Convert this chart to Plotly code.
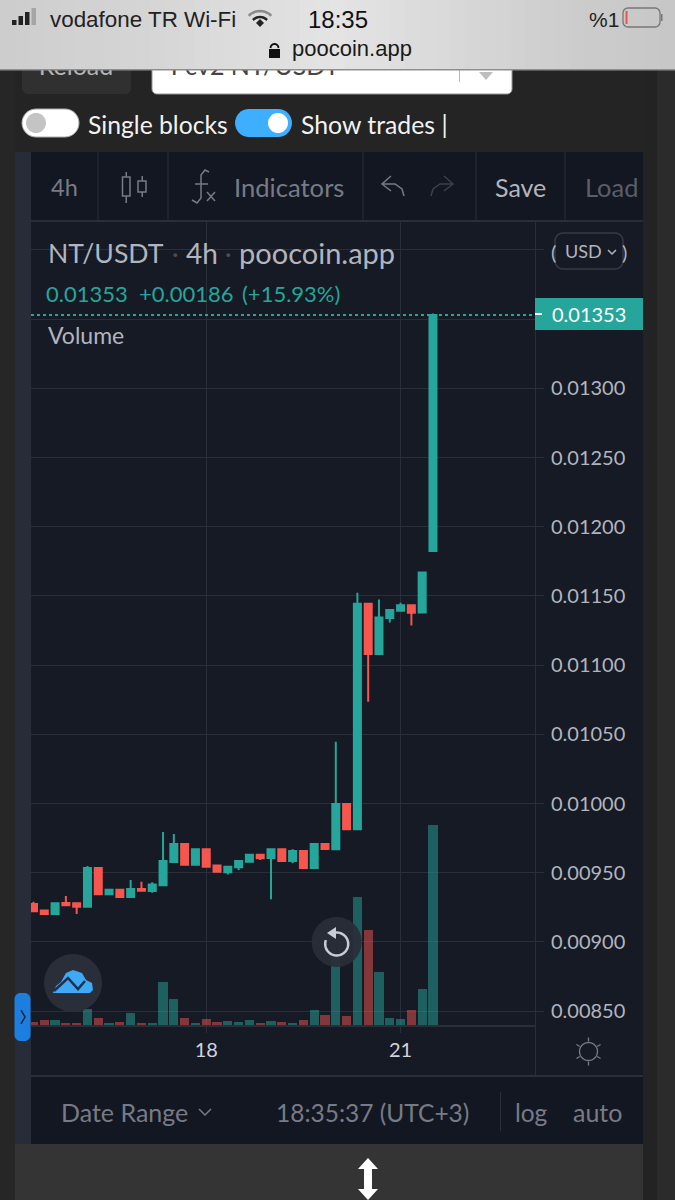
import math
import plotly.graph_objects as go

# candle positions, 4h bars; 18th and 21st fall on bars 16 and 34
bars = list(range(38))
tick_bars = [16, 34]
tick_days = ["18", "21"]

opens = [.009274, .009228, .009202, .009281, .009279, .009254, .009534, .009344, .009377, .009324,
         .009382, .009368, .009409, .009577, .009707, .009558, .009669, .009553, .009503, .009539,
         .00958, .00963, .009606, .009669, .009585, .009657, .009534, .009707, .009669, .009996,
         .009814, .011444, .01108, .01134, .011393, .011432, .011381, .011824]
highs = [.009291, .009228, .009279, .009332, .009285, .009548, .009534, .009377, .009377, .009447,
         .009435, .009431, .009794, .00978, .009707, .009676, .009669, .009553, .009543, .009585,
         .00963, .00963, .009669, .009669, .009669, .009657, .009707, .009707, .010447, .009996,
         .011523, .011444, .011475, .011398, .011451, .011432, .01167, .01354]
lows = [.009221, .009194, .009202, .009265, .009202, .009254, .009344, .009344, .009324, .009324,
        .00937, .009356, .009409, .009577, .009558, .009558, .009543, .009507, .009488, .00952,
        .00958, .009592, .009308, .009585, .009568, .009534, .009534, .009664, .009669, .009814,
        .009814, .010736, .01108, .011309, .011393, .011287, .011381, .011824]
closes = [.009221, .009202, .009279, .009265, .009254, .009534, .009344, .009377, .009324, .009382,
          .00937, .009416, .009585, .009707, .009558, .009669, .009543, .009507, .009543, .009585,
          .00963, .009604, .009669, .009585, .009657, .009534, .009707, .009671, .009996, .009814,
          .011444, .01108, .011345, .011398, .011432, .011379, .01167, .01353]
# volume has no scale on the chart, so relative units
volumes = [2.7, 5, 5, 1.7, 1.7, 16.3, 7.3, 1.7, 3, 12, 1.7, 2, 43, 25.7, 7.3, 1.7, 5.7, 3, 3.7, 2.7,
           4.7, 1.7, 3.7, 3, 1.7, 4.7, 14.5, 9.8, 68, 9.3, 127.7, 94.7, 53, 7, 6.3, 15.3, 36, 199.7]

price_ticks = [.0085, .009, .0095, .01, .0105, .011, .0115, .012, .0125, .013, .0135, .014]
price_labels = ["0.00850", "0.00900", "0.00950", "0.01000", "0.01050", "0.01100",
                "0.01150", "0.01200", "0.01250", "0.01300", "", ""]
last_price = 0.01353

GREEN = "#26a69a"
RED = "#f6564e"
PANEL = "#161a25"
LINE = "#2a2e39"
GREY = "#787b86"
LIGHT = "#b2b5be"
W, H = 675, 1200
FONT = "Lato"


def px(x):
    return x / W


def py(y):
    return 1 - y / H


shapes = []
notes = []


def rect(x0, y0, x1, y1, fill, layer="below"):
    shapes.append(dict(type="rect", xref="paper", yref="paper", x0=px(x0), x1=px(x1), y0=py(y0), y1=py(y1),
                       fillcolor=fill, line_width=0, layer=layer))


def poly(points, fill=None, stroke=None, width=2, close=True, layer="above"):
    d = "M" + " L".join(f"{px(x):.5f},{py(y):.5f}" for x, y in points)
    shapes.append(dict(type="path", xref="paper", yref="paper", path=d + (" Z" if close else ""),
                       fillcolor=fill or "rgba(0,0,0,0)", line=dict(color=stroke or "rgba(0,0,0,0)", width=width),
                       layer=layer))


def arc(cx, cy, r, a0=0, a1=360, n=48):
    return [(cx + r * math.cos(math.radians(a0 + (a1 - a0) * i / n)),
             cy + r * math.sin(math.radians(a0 + (a1 - a0) * i / n))) for i in range(n + 1)]


def pill(x0, y0, x1, y1, r, fill=None, stroke=None, width=1, layer="below"):
    pts = arc(x0 + r, y0 + r, r, 180, 270, 8) + arc(x1 - r, y0 + r, r, 270, 360, 8) + \
        arc(x1 - r, y1 - r, r, 0, 90, 8) + arc(x0 + r, y1 - r, r, 90, 180, 8)
    poly(pts, fill, stroke, width, layer=layer)


def label(x, y, text, size=20, color=LIGHT, anchor="left", family=FONT):
    notes.append(dict(xref="paper", yref="paper", x=px(x), y=py(y), text=text, showarrow=False,
                      xanchor=anchor, yanchor="middle", borderpad=0,
                      font=dict(family=family, size=size, color=color)))


# page behind the chart
rect(0, 0, 15, H, "#262626")
rect(643, 0, 657, H, "#232323")
rect(657, 0, W, H, "#2b2b2b")
rect(15, 0, 643, H, "#242424")
rect(15, 1144, 643, H, "#343434")

# buttons cut off by the browser bar, toggles
pill(22, 40, 131, 94, 6, "#303030")
pill(152, 40, 512, 94, 5, "#ffffff", "#999999", 1)
rect(459, 70, 460, 82, "#b8b8b8")
poly([(479, 72), (486, 80), (493, 72)], "#bdbdbd", layer="below")
pill(22, 109, 79, 137, 14, "#ffffff", "#aaaaaa", 1)
poly(arc(36, 123, 10), "#c4c4c4", layer="below")
pill(235, 109, 292, 137, 14, "#3eaeff")
poly(arc(278, 123, 10), "#ffffff", layer="below")

# chart panel
rect(15, 152, 31, 1144, "#272c38")
rect(31, 152, 643, 1144, PANEL)
rect(31, 152, 643, 221, "#131722")
rect(31, 220, 643, 222, LINE)
for x in [98, 168, 363, 476, 565]:
    rect(x - .5, 152, x + .5, 220, LINE)
rect(31, 1075, 643, 1077, LINE)
rect(31, 1077, 643, 1144, "#131722")
rect(500, 1092, 501, 1131, LINE)
rect(535, 1025, 536, 1076, LINE)

# last price marker
shapes.append(dict(type="line", xref="paper", yref="y", x0=px(31), x1=px(535), y0=last_price, y1=last_price,
                   line=dict(color=GREEN, width=2, dash="dot"), layer="above"))
rect(535, 298, 643, 330, GREEN, "above")
rect(535, 313, 542, 315, "#ffffff", "above")
label(551, 314, "0.01353", 20, "#ffffff")

# usd button over the hidden 0.01400 label
pill(555, 233, 623, 269, 8, PANEL, "#363a45", 1.5, "above")
label(550, 252, "(", 20, LIGHT)
label(621, 252, ")", 20, LIGHT)
label(564, 251, "USD", 18, LIGHT)
poly([(608, 250), (612, 254), (616, 250)], stroke=LIGHT, width=1.5, close=False)

# toolbar icons
rect(125.5, 172, 127, 177, GREY, "above")
rect(125.5, 196, 127, 203, GREY, "above")
poly([(122.5, 177), (130, 177), (130, 196), (122.5, 196)], stroke=GREY, width=1.5)
rect(141.5, 176, 143, 181, GREY, "above")
rect(141.5, 192, 143, 197, GREY, "above")
poly([(138, 181), (146, 181), (146, 192), (138, 192)], stroke=GREY, width=1.5)
poly([(209, 172), (205, 170), (201, 175), (201, 198), (197, 203), (192, 200)], stroke=GREY, width=1.5, close=False)
poly([(195, 184), (208, 184)], stroke=GREY, width=1.5, close=False)
poly([(207, 192), (215, 201)], stroke=GREY, width=1.5, close=False)
poly([(215, 192), (207, 201)], stroke=GREY, width=1.5, close=False)
poly([(391, 176), (382, 184), (391, 191)], stroke=GREY, width=1.5, close=False)
poly([(382, 184), (395, 184), (402, 189), (404, 196)], stroke=GREY, width=1.5, close=False)
poly([(444, 176), (453, 184), (444, 191)], stroke="#3d404a", width=1.5, close=False)
poly([(453, 184), (440, 184), (433, 189), (431, 196)], stroke="#3d404a", width=1.5, close=False)

# left tab
pill(14.5, 993, 30.5, 1041, 6, "#1c7fe0", layer="above")
poly([(21, 1010), (25, 1017), (21, 1024)], stroke="#12233f", width=1.5, close=False)

# logo badge
poly(arc(73, 983, 29), "#2a2e39")
poly([(53, 993), (56, 986), (61, 982), (66, 973), (73, 970), (82, 973), (86, 980), (92, 983), (93, 990),
      (90, 993)], "#3eaaf7")
poly([(54, 991), (68, 978), (78, 989), (85, 981)], stroke="#22304a", width=2.5, close=False)

# reset button
poly(arc(336.7, 942, 25), "rgba(42,46,57,0.93)")
poly(arc(336.7, 944, 11.5, -100, 200), stroke="#c9ccd4", width=2.5, close=False)
poly([(327, 933), (336, 927), (336, 939)], "#c9ccd4")

# gear at the axis corner
poly(arc(588.5, 1051.5, 9), stroke=GREY, width=1.3)
for a in range(0, 360, 60):
    poly([(588.5 + 10 * math.cos(math.radians(a + 30)), 1051.5 + 10 * math.sin(math.radians(a + 30))),
          (588.5 + 14 * math.cos(math.radians(a + 30)), 1051.5 + 14 * math.sin(math.radians(a + 30)))],
         stroke=GREY, width=1.3, close=False)

# resize arrow
poly([(368, 1158), (378, 1169), (372, 1169), (372, 1189), (378, 1189), (368, 1200), (358, 1189), (364, 1189),
      (364, 1169), (358, 1169)], "#ffffff")

# browser bar, strips so it lightens towards the middle
stops = [(0, 205), (150, 214), (330, 228), (470, 214), (560, 205), (675, 198)]
for x in range(0, W, 15):
    for (a, va), (b, vb) in zip(stops, stops[1:]):
        if a <= x < b:
            v = round(va + (vb - va) * (x - a) / (b - a))
            rect(x, 0, x + 16, 70, f"rgb({v},{v},{v})", "above")
rect(0, 69, W, 70.5, "#8f8f8f", "above")
for i, h in enumerate([5, 9, 13, 17]):
    rect(12 + i * 6.5, 25 - h, 16.5 + i * 6.5, 25, "#222222" if i < 3 else "#a5a5a5", "above")
for r, w in [(16, 2.5), (10, 2.5)]:
    poly(arc(260, 27, r, 225, 315, 10), stroke="#222222" if r == 10 else "#8a8a8a", width=w, close=False)
poly([(256, 23), (260, 19), (264, 23), (260, 27)], "#222222")
pill(623, 8, 660, 27, 5, None, "#777777", 1.3, "above")
rect(625.5, 11, 627.5, 24, "#f0524a", "above")
rect(661, 14, 662.5, 21, "#777777", "above")
rect(269, 49, 280, 58, "#111111", "above")
poly(arc(274.5, 48, 4, 180, 360, 10), stroke="#111111", width=1.8, close=False)

label(49, 19, "vodafone TR Wi-Fi", 22.4, "#222222", family="Liberation Sans")
label(307, 19, "18:35", 24, "#111111", family="Liberation Sans")
label(588, 19, "%1", 21, "#222222", family="Liberation Sans")
label(291, 49, "poocoin.app", 22, "#1a1a1a", family="Liberation Sans")

label(87, 125, "Single blocks", 24.7, "#f2f2f2")
label(300, 125, "Show trades |", 24.8, "#f2f2f2")

label(50, 187, "4h", 23.5, GREY)
label(233, 187, "Indicators", 25.6, GREY)
label(494, 187, "Save", 25, LIGHT)
label(584, 187, "Load", 25.4, "#5b5e69")

label(47, 253, "NT/USDT", 26.6, LIGHT)
label(171, 253, "·", 25, "#4a4e59")
label(185, 253, "4h", 28, LIGHT)
label(224, 253, "·", 25, "#4a4e59")
label(238, 253, "poocoin.app", 29, LIGHT)
label(45, 293, "0.01353", 22, GREEN)
label(138, 293, "+0.00186", 22, GREEN)
label(241, 293, "(+15.93%)", 22, GREEN)
label(47, 335, "Volume", 23, LIGHT)

label(60, 1112, "Date Range", 25, GREY)
poly([(199, 1109), (205, 1115), (211, 1109)], stroke=GREY, width=1.5, close=False)
label(275, 1112, "18:35:37 (UTC+3)", 24.5, GREY)
label(514, 1112, "log", 24.5, GREY)
label(572, 1112, "auto", 25, GREY)

vol_colors = ["rgba(38,166,154,0.5)" if c >= o else "rgba(239,83,80,0.5)" for o, c in zip(opens, closes)]

fig = go.Figure()
fig.add_trace(go.Bar(x=bars, y=volumes, yaxis="y2", marker=dict(color=vol_colors, line_width=0), width=0.85,
                     showlegend=False))
fig.add_trace(go.Candlestick(x=bars, open=opens, high=highs, low=lows, close=closes, showlegend=False,
                             whiskerwidth=0,
                             increasing=dict(line=dict(color=GREEN, width=2), fillcolor=GREEN),
                             decreasing=dict(line=dict(color=RED, width=2), fillcolor=RED)))
# text that the browser bar cuts off, so it has to sit under the shapes
fig.add_trace(go.Scatter(x=[76, 255], y=[69, 69], xaxis="x3", yaxis="y3", mode="text",
                         text=["Reload", "Pcv2 NT/USDT"], textposition="middle center",
                         textfont=dict(family=FONT, size=25, color=["#b5b5b5", "#444444"]), showlegend=False))

fig.update_layout(
    width=W, height=H, margin=dict(l=0, r=0, t=0, b=0), autosize=False,
    paper_bgcolor="#242424", plot_bgcolor="rgba(0,0,0,0)",
    bargap=0, boxgap=0.35, boxgroupgap=0, hovermode=False, dragmode=False,
    shapes=shapes, annotations=notes,
    font=dict(family=FONT),
    xaxis=dict(domain=[px(31), px(535)], range=[-0.23, 46.45], tickvals=tick_bars, ticktext=tick_days,
               showgrid=True, gridcolor=LINE, gridwidth=1, zeroline=False, rangeslider=dict(visible=False),
               showline=True, linecolor=LINE, linewidth=2, ticks="outside", ticklen=6, tickcolor=LINE,
               tickfont=dict(size=20, color="#d1d4dc"), anchor="y"),
    yaxis=dict(domain=[py(1025), py(222)], range=[0.0084, 0.014202], tickvals=price_ticks, ticktext=price_labels,
               side="right", showgrid=True, gridcolor=LINE, gridwidth=1, zeroline=False,
               showline=True, linecolor=LINE, linewidth=1, ticks="outside", ticklen=8, tickcolor=LINE,
               ticklabelstandoff=3, tickfont=dict(size=20, color=LIGHT), anchor="x"),
    yaxis2=dict(domain=[py(1024), py(222)], range=[0, 802], overlaying="y", visible=False),
    xaxis3=dict(domain=[0, 1], range=[0, W], visible=False, anchor="y3"),
    yaxis3=dict(domain=[0, 1], range=[H, 0], visible=False, anchor="x3"),
)

# plotly's page keeps the browser's 8px body margin otherwise
fig.write_html("out.html", config={"displayModeBar": False}, post_script="document.body.style.margin='0';")
